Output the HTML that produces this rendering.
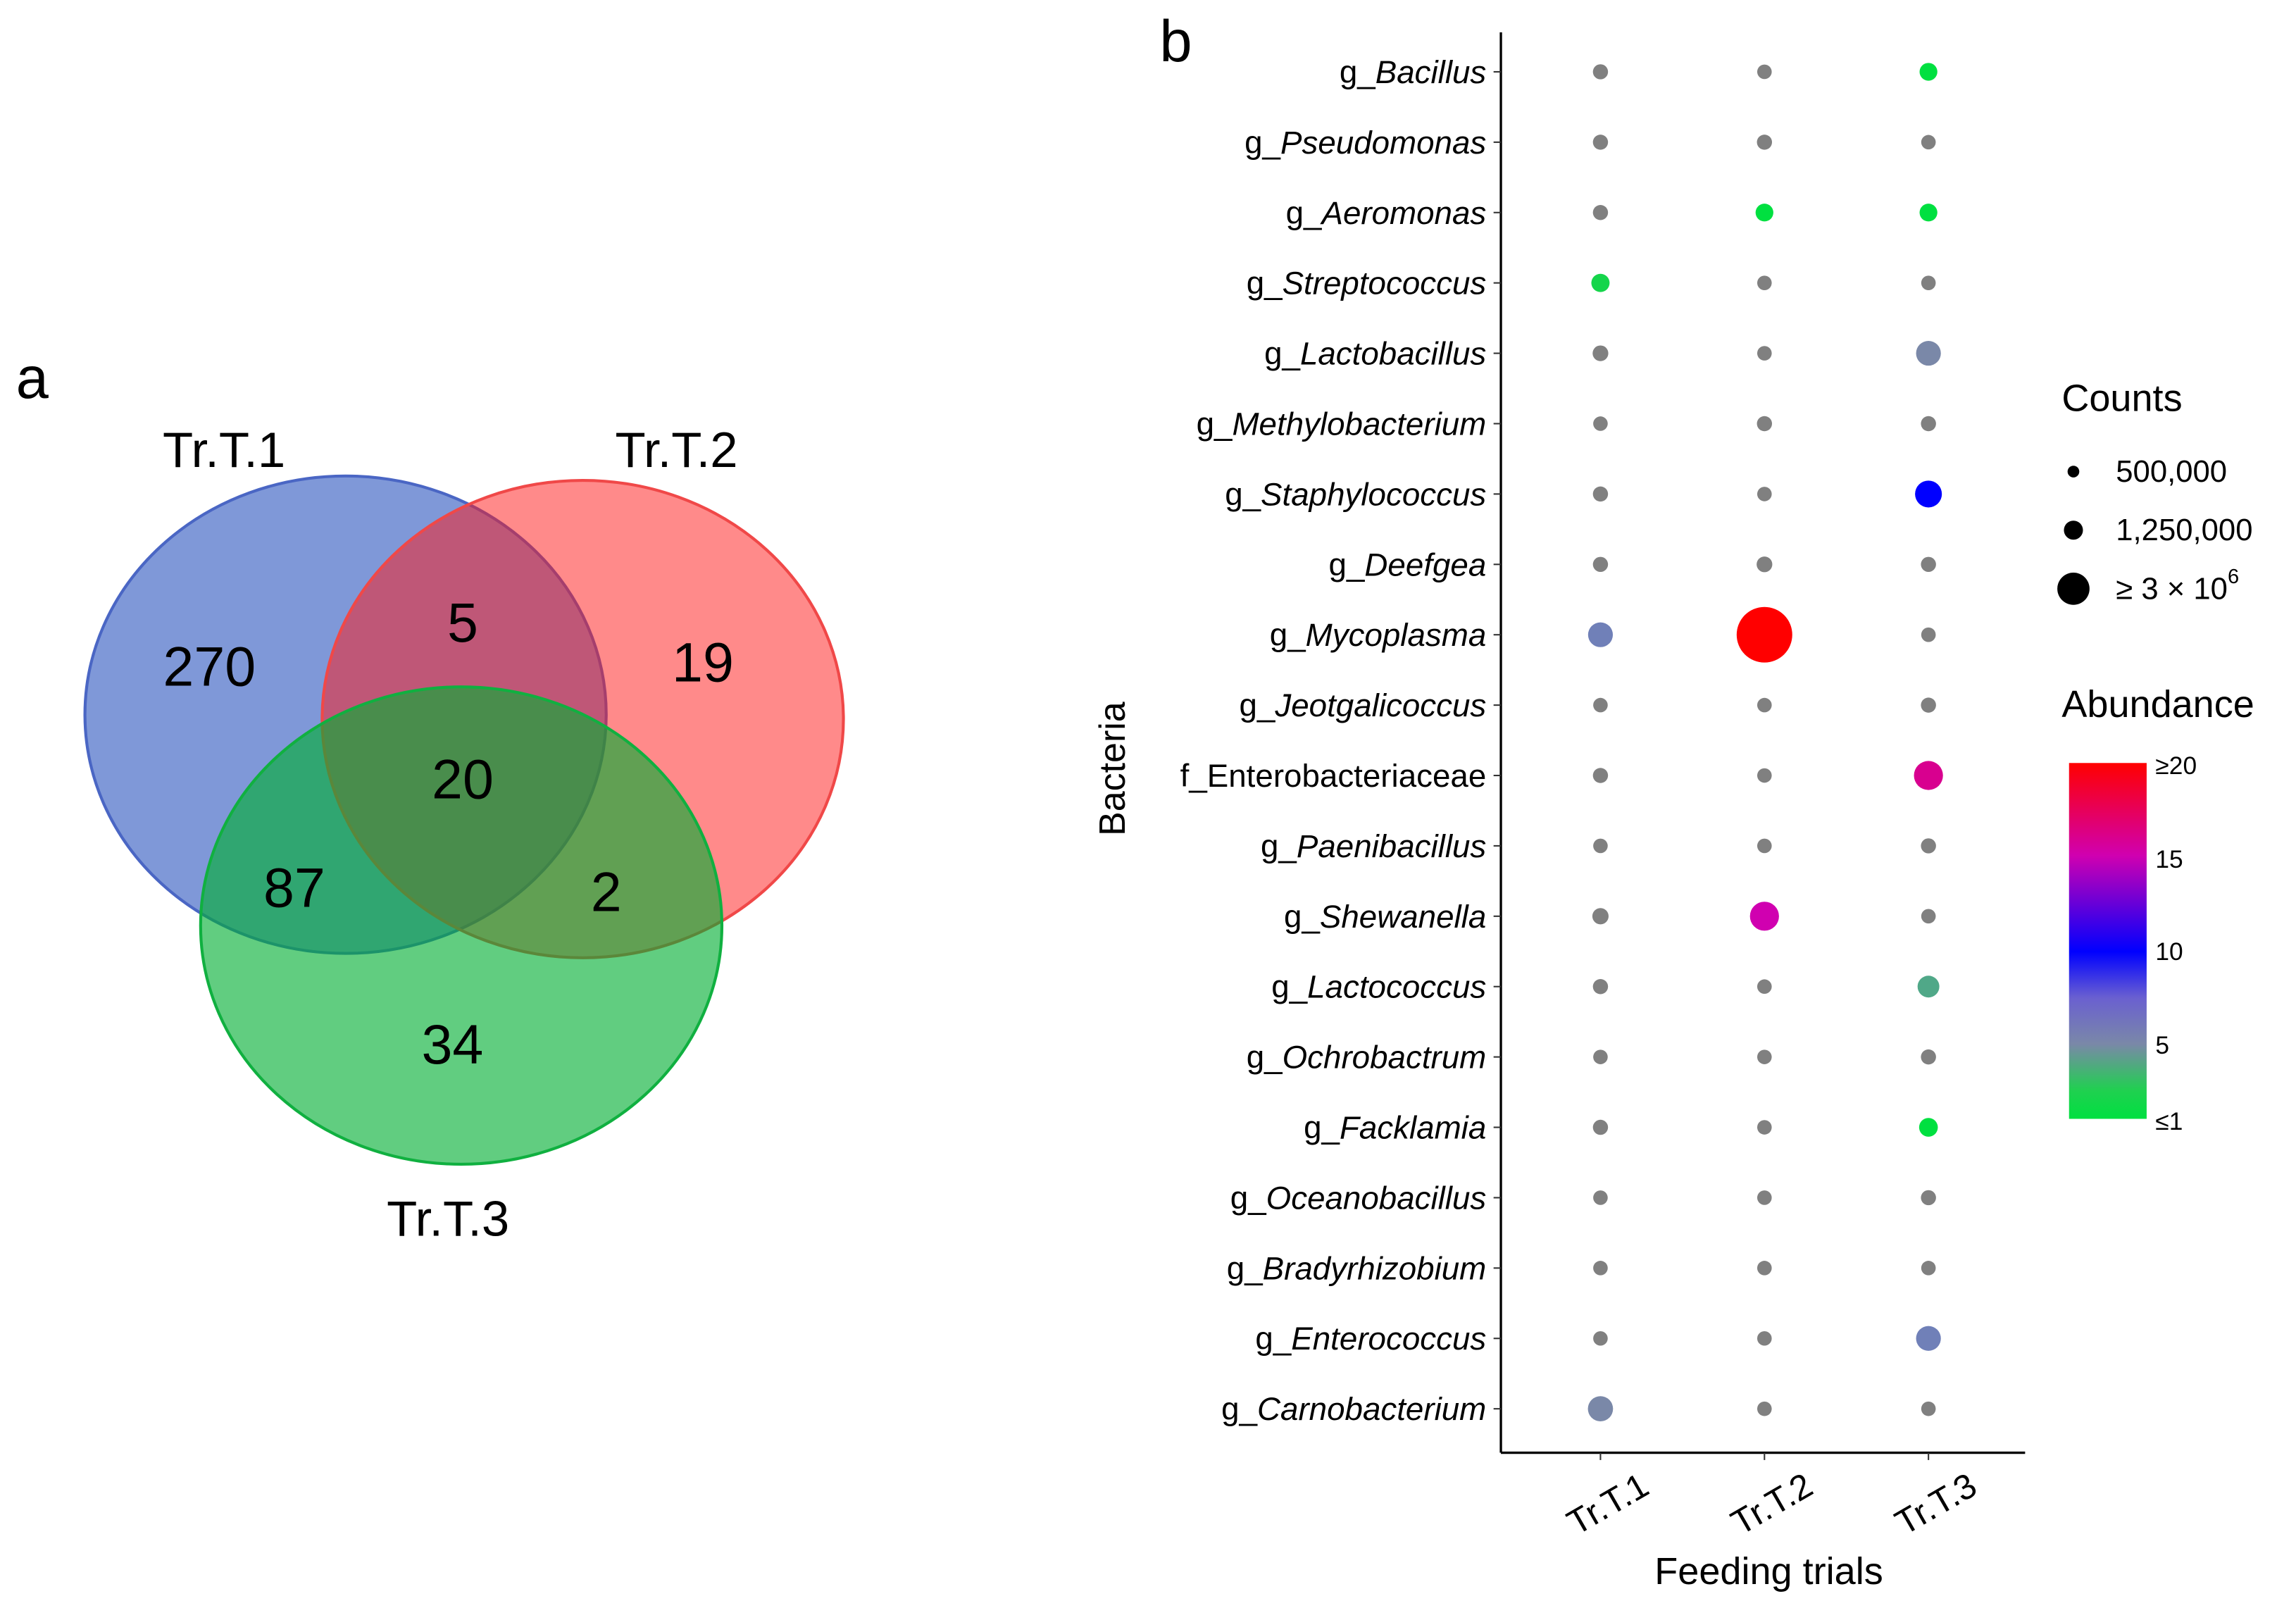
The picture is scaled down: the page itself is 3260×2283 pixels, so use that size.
<!DOCTYPE html>
<html><head><meta charset="utf-8"><style>html,body{margin:0;padding:0;background:#fff}svg{display:block}text{font-family:"Liberation Sans",sans-serif}</style></head>
<body>
<svg id="fig" width="3260" height="2283" viewBox="0 0 1568 1098" xmlns="http://www.w3.org/2000/svg">
<g>
<text x="22" y="258" font-size="40" text-anchor="middle" dominant-baseline="central">a</text>
<ellipse cx="236" cy="488" rx="178" ry="163" fill="rgb(0,49,177)" fill-opacity="0.5" stroke="#4a66c4" stroke-width="2"/>
<ellipse cx="398" cy="491" rx="178" ry="163" fill="rgb(255,21,21)" fill-opacity="0.5" stroke="#f04848" stroke-width="2"/>
<ellipse cx="315" cy="632" rx="178" ry="163" fill="rgb(0,175,50)" fill-opacity="0.62" stroke="#10b040" stroke-width="2"/>
<g font-size="34" text-anchor="middle" dominant-baseline="central">
<text x="153" y="307">Tr.T.1</text>
<text x="462" y="307">Tr.T.2</text>
<text x="306" y="832">Tr.T.3</text>
</g>
<g font-size="38" text-anchor="middle" dominant-baseline="central">
<text x="143" y="455">270</text>
<text x="316" y="425">5</text>
<text x="480" y="452">19</text>
<text x="316" y="532">20</text>
<text x="201" y="606">87</text>
<text x="414" y="609">2</text>
<text x="309" y="713">34</text>
</g>
</g>
<g id="dot">
<text x="803" y="28" font-size="40" text-anchor="middle" dominant-baseline="central">b</text>
<line x1="1025" y1="22" x2="1025" y2="992" stroke="#000" stroke-width="1.6"/>
<line x1="1025" y1="992" x2="1383" y2="992" stroke="#000" stroke-width="1.6"/>
<text transform="translate(760,525) rotate(-90)" font-size="25" text-anchor="middle" dominant-baseline="central">Bacteria</text>
<text x="1208" y="1073" font-size="26" text-anchor="middle" dominant-baseline="central">Feeding trials</text>
<g>
<text x="1408" y="272" font-size="26" dominant-baseline="central">Counts</text>
<circle cx="1416" cy="322" r="4" fill="#000"/>
<text x="1445" y="322" font-size="21" dominant-baseline="central">500,000</text>
<circle cx="1416" cy="362" r="6.5" fill="#000"/>
<text x="1445" y="362" font-size="21" dominant-baseline="central">1,250,000</text>
<circle cx="1416" cy="402" r="11" fill="#000"/>
<text x="1445" y="402" font-size="21" dominant-baseline="central">≥ 3 × 10<tspan font-size="14" dy="-8">6</tspan></text>
</g>
<g>
<text x="1408" y="481" font-size="26" dominant-baseline="central">Abundance</text>
<defs><linearGradient id="grad" x1="0" y1="1" x2="0" y2="0">
<stop offset="0" stop-color="#00e040"/><stop offset="0.08" stop-color="#20d050"/><stop offset="0.21" stop-color="#7a88a8"/><stop offset="0.34" stop-color="#6a60d0"/><stop offset="0.47" stop-color="#0000ff"/><stop offset="0.74" stop-color="#d000b0"/><stop offset="1" stop-color="#ff0000"/></linearGradient></defs>
<rect x="1413" y="521" width="53" height="243" fill="url(#grad)"/>
<g font-size="17" dominant-baseline="central">
<text x="1472" y="523">≥20</text>
<text x="1472" y="587">15</text>
<text x="1472" y="650">10</text>
<text x="1472" y="714">5</text>
<text x="1472" y="766">≤1</text>
</g>
</g>
</g>
</svg>
<script>
const taxa = ["g_Bacillus","g_Pseudomonas","g_Aeromonas","g_Streptococcus","g_Lactobacillus","g_Methylobacterium","g_Staphylococcus","g_Deefgea","g_Mycoplasma","g_Jeotgalicoccus","f_Enterobacteriaceae","g_Paenibacillus","g_Shewanella","g_Lactococcus","g_Ochrobactrum","g_Facklamia","g_Oceanobacillus","g_Bradyrhizobium","g_Enterococcus","g_Carnobacterium"];
const italicPart = [true,true,true,true,true,true,true,true,true,true,false,true,true,true,true,true,true,true,true,true];
const trials = ["Tr.T.1","Tr.T.2","Tr.T.3"];
// counts in thousands [T1, T2, T3]
const countsT1 = [650,650,650,950,700,600,650,650,1750,600,650,600,750,650,600,650,600,600,600,1800];
const countsT2 = [600,650,900,600,600,650,600,700,8800,600,600,600,2400,600,600,600,600,600,600,600];
const countsT3 = [900,600,900,600,1750,650,2050,650,600,650,2400,650,600,1350,650,1000,650,600,1750,600];
// abundance (0 = below threshold, grey)
const abundT1 = [0,0,0,2,0,0,0,0,7,0,0,0,0,0,0,0,0,0,0,5];
const abundT2 = [0,0,1,0,0,0,0,0,20,0,0,0,15,0,0,0,0,0,0,0];
const abundT3 = [1,0,1,0,5,0,10,0,0,0,17,0,0,3.5,0,1,0,0,7,0];

const NS="http://www.w3.org/2000/svg";
const g=document.getElementById('dot');
const yScale=i=>49+i*(962-49)/(taxa.length-1);
const xScale=j=>1093+j*112;
const rScale=c=>0.0064*Math.sqrt(c*1000);
const stops=[[1,[0,224,64]],[2.5,[32,208,80]],[3.5,[80,168,136]],[5,[122,136,168]],[7,[112,128,184]],[10,[0,0,255]],[15,[208,0,176]],[17,[216,0,143]],[20,[255,0,0]]];
function color(v){
  if(!v) return "#808080";
  v=Math.max(1,Math.min(20,v));
  for(let k=0;k<stops.length-1;k++){const a=stops[k],b=stops[k+1];
    if(v<=b[0]){const t=(v-a[0])/(b[0]-a[0]);const c=a[1].map((x,i)=>Math.round(x+(b[1][i]-x)*t));return `rgb(${c})`;}}
  return "red";
}
taxa.forEach((name,i)=>{
  const y=yScale(i);
  const t=document.createElementNS(NS,'text');
  t.setAttribute('x',1015);t.setAttribute('y',y);t.setAttribute('font-size','22');
  t.setAttribute('text-anchor','end');t.setAttribute('dominant-baseline','central');
  
  
  const pre=name.slice(0,2), rest=name.slice(2);
  t.textContent=pre;
  const ts=document.createElementNS(NS,'tspan');ts.textContent=rest;
  if(italicPart[i]) ts.setAttribute('font-style','italic');
  t.appendChild(ts);g.appendChild(t);
  const tk=document.createElementNS(NS,'line');
  tk.setAttribute('x1',1020);tk.setAttribute('x2',1025);tk.setAttribute('y1',y);tk.setAttribute('y2',y);tk.setAttribute('stroke','#333');
  
  
  g.appendChild(tk);
  [[countsT1,abundT1],[countsT2,abundT2],[countsT3,abundT3]].forEach((s,j)=>{
    const c=document.createElementNS(NS,'circle');
    c.setAttribute('cx',xScale(j));c.setAttribute('cy',y);c.setAttribute('r',rScale(s[0][i]));
    c.setAttribute('fill',color(s[1][i]));
    
    
    g.appendChild(c);
  });
});
trials.forEach((tr,j)=>{
  const x=xScale(j);
  const tk=document.createElementNS(NS,'line');
  tk.setAttribute('x1',x);tk.setAttribute('x2',x);tk.setAttribute('y1',992);tk.setAttribute('y2',997);tk.setAttribute('stroke','#333');
  
  
  g.appendChild(tk);
  const t=document.createElementNS(NS,'text');
  t.setAttribute('transform',`translate(${x+5},${1027}) rotate(-30)`);
  t.setAttribute('font-size','24');t.setAttribute('text-anchor','middle');t.setAttribute('dominant-baseline','central');
  
  
  t.textContent=tr;g.appendChild(t);
});
</script>
</body></html>
